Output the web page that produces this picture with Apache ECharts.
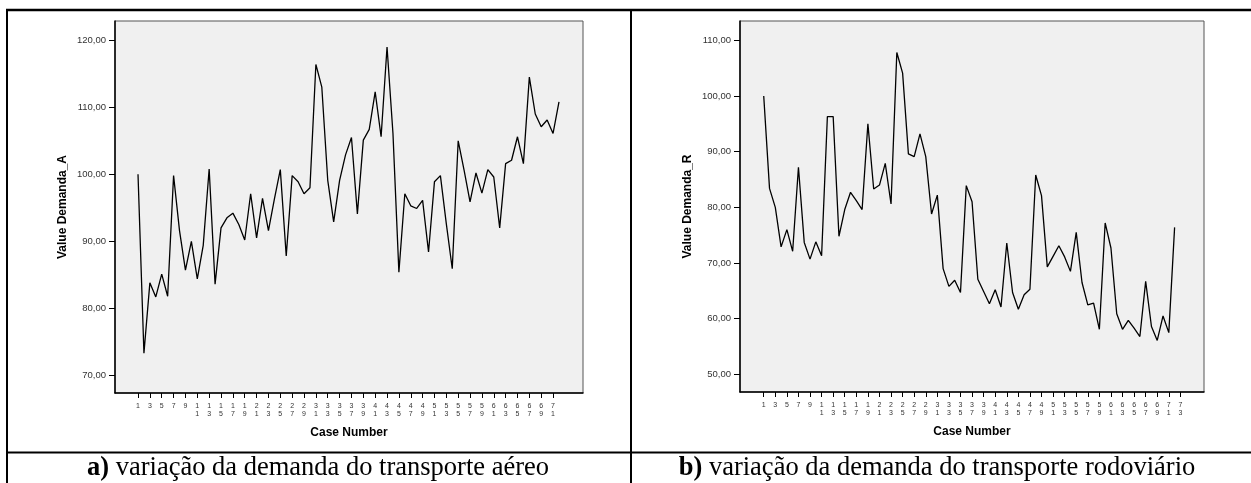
<!DOCTYPE html>
<html>
<head>
<meta charset="utf-8">
<title>Demanda</title>
<script src="https://cdn.jsdelivr.net/npm/echarts@6/dist/echarts.min.js"></script>
<style>
html, body { margin: 0; padding: 0; background: #fff; }
#chart { width: 1251px; height: 483px; }
</style>
</head>
<body>
<div id="chart"></div>
<script>
// case numbers (x) shared by both series
const caseNumbers = [1,2,3,4,5,6,7,8,9,10,11,12,13,14,15,16,17,18,19,20,21,22,23,24,
  25,26,27,28,29,30,31,32,33,34,35,36,37,38,39,40,41,42,43,44,45,46,47,48,
  49,50,51,52,53,54,55,56,57,58,59,60,61,62,63,64,65,66,67,68,69,70,71,72];

// a) transporte aereo
const demandaA = [100.0,73.3,83.8,81.7,85.1,81.8,99.8,91.6,85.7,90.0,84.4,89.4,100.8,83.6,
  92.0,93.5,94.2,92.5,90.2,97.1,90.5,96.4,91.6,96.3,100.7,87.8,99.8,98.9,97.1,98.0,
  116.4,113.0,99.1,92.9,99.1,102.9,105.5,94.1,105.1,106.7,112.3,105.6,119.0,106.1,85.4,
  97.1,95.3,94.9,96.1,88.4,98.9,99.8,92.6,85.9,105.0,100.6,95.9,100.2,97.2,100.7,
  99.6,92.0,101.6,102.1,105.6,101.6,114.5,109.0,107.1,108.1,106.1,110.8];

// b) transporte rodoviario
const demandaR = [100.0,83.4,80.0,72.9,76.0,72.1,87.2,73.7,70.7,73.8,71.3,96.3,96.3,74.8,
  79.6,82.7,81.2,79.6,95.0,83.3,84.0,87.9,80.6,107.8,104.1,89.6,89.1,93.2,89.1,78.8,
  82.2,69.0,65.8,66.9,64.7,83.9,81.0,67.1,64.9,62.7,65.2,62.1,73.6,64.7,61.7,64.3,
  65.3,85.8,82.1,69.3,71.2,73.1,71.1,68.5,75.5,66.5,62.5,62.8,58.1,77.2,72.7,60.9,
  58.1,59.7,58.3,56.8,66.7,58.6,56.1,60.5,57.5,76.4];

const yTicksA = [70, 80, 90, 100, 110, 120];
const yTicksR = [50, 60, 70, 80, 90, 100, 110];
const xTicksA = [1,3,5,7,9,11,13,15,17,19,21,23,25,27,29,31,33,35,37,39,41,43,45,47,49,
  51,53,55,57,59,61,63,65,67,69,71];
const xTicksR = [1,3,5,7,9,11,13,15,17,19,21,23,25,27,29,31,33,35,37,39,41,43,45,47,49,
  51,53,55,57,59,61,63,65,67,69,71,73];

const sans = 'Liberation Sans, Arial, sans-serif';
const serif = 'Liberation Serif, Times New Roman, serif';

function xAxisFor(gridIndex, ticks, min, max) {
  return {
    type: 'value', gridIndex: gridIndex, min: min, max: max,
    name: 'Case Number', nameLocation: 'middle', nameGap: 34,
    nameTextStyle: { fontFamily: sans, fontWeight: 'bold', fontSize: 12, color: '#000' },
    splitLine: { show: false },
    axisLine: { show: true, onZero: false, lineStyle: { color: '#000', width: 1.5 } },
    axisTick: { show: true, customValues: ticks, length: 5, lineStyle: { color: '#000' } },
    axisLabel: {
      customValues: ticks, margin: 9, fontFamily: sans, fontSize: 7, lineHeight: 8, color: '#333',
      formatter: function (v) { return String(v).split('').join('\n'); }
    }
  };
}

function yAxisFor(gridIndex, ticks, min, max, name) {
  return {
    type: 'value', gridIndex: gridIndex, min: min, max: max,
    name: name, nameLocation: 'middle', nameGap: 46,
    nameTextStyle: { fontFamily: sans, fontWeight: 'bold', fontSize: 12, color: '#000' },
    splitLine: { show: false },
    axisLine: { show: true, onZero: false, lineStyle: { color: '#000', width: 1.5 } },
    axisTick: { show: true, customValues: ticks, length: 6, lineStyle: { color: '#000' } },
    axisLabel: {
      customValues: ticks, margin: 9, fontFamily: sans, fontSize: 9.5, color: '#333',
      formatter: function (v) { return v.toFixed(2).replace('.', ','); }
    }
  };
}

const chart = echarts.init(document.getElementById('chart'));
chart.setOption({
  animation: false,
  backgroundColor: '#fff',
  grid: [
    { left: 115, top: 21, width: 468, height: 372, show: true,
      backgroundColor: '#f0f0f0', borderColor: '#555', borderWidth: 1 },
    { left: 740, top: 21, width: 464, height: 371, show: true,
      backgroundColor: '#f0f0f0', borderColor: '#555', borderWidth: 1 }
  ],
  xAxis: [
    xAxisFor(0, xTicksA, -2.88, 76.05),
    xAxisFor(1, xTicksR, -3.1, 77.08)
  ],
  yAxis: [
    yAxisFor(0, yTicksA, 67.36, 122.88, 'Value Demanda_A'),
    yAxisFor(1, yTicksR, 46.84, 113.46, 'Value Demanda_R')
  ],
  series: [
    { type: 'line', xAxisIndex: 0, yAxisIndex: 0, showSymbol: false, symbol: 'none',
      lineStyle: { color: '#000', width: 1.3 },
      data: caseNumbers.map(function (c, i) { return [c, demandaA[i]]; }) },
    { type: 'line', xAxisIndex: 1, yAxisIndex: 1, showSymbol: false, symbol: 'none',
      lineStyle: { color: '#000', width: 1.3 },
      data: caseNumbers.map(function (c, i) { return [c, demandaR[i]]; }) }
  ],
  graphic: [
    // table borders
    { type: 'line', shape: { x1: 6, y1: 10, x2: 1251, y2: 10 }, style: { stroke: '#000', lineWidth: 2.5 } },
    { type: 'line', shape: { x1: 7, y1: 9, x2: 7, y2: 483 }, style: { stroke: '#000', lineWidth: 2 } },
    { type: 'line', shape: { x1: 631, y1: 9, x2: 631, y2: 483 }, style: { stroke: '#000', lineWidth: 2 } },
    { type: 'line', shape: { x1: 6, y1: 452.5, x2: 1251, y2: 452.5 }, style: { stroke: '#000', lineWidth: 2 } },
    // captions
    { type: 'text', x: 318, y: 468, style: {
        text: '{b|a)} variação da demanda do transporte aéreo',
        align: 'center', verticalAlign: 'middle', fill: '#000',
        font: '26.5px ' + serif,
        rich: { b: { fontWeight: 'bold', fontSize: 26.5, fontFamily: serif } } } },
    { type: 'text', x: 937, y: 468, style: {
        text: '{b|b)} variação da demanda do transporte rodoviário',
        align: 'center', verticalAlign: 'middle', fill: '#000',
        font: '26.5px ' + serif,
        rich: { b: { fontWeight: 'bold', fontSize: 26.5, fontFamily: serif } } } }
  ]
});
</script>
</body>
</html>
